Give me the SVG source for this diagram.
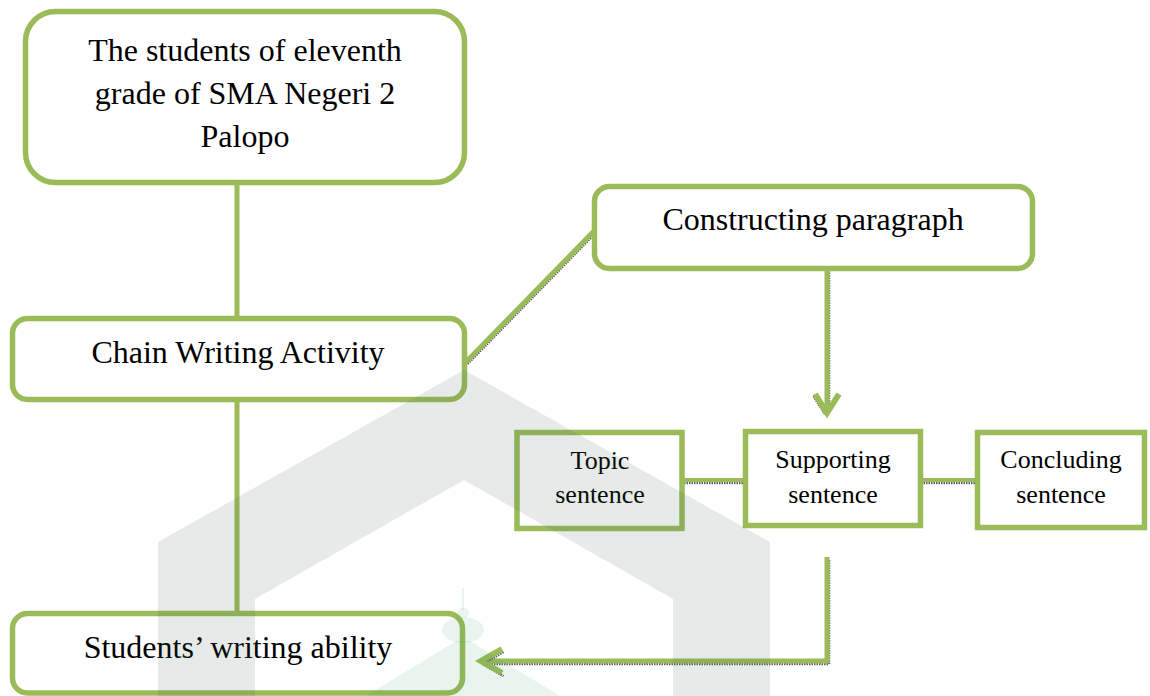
<svg xmlns="http://www.w3.org/2000/svg" xmlns:xlink="http://www.w3.org/1999/xlink" width="1150" height="696" viewBox="0 0 1150 696">
  <style>
    .box { fill: #ffffff; stroke: #9bbb59; stroke-width: 5.5; }
    .lbl { font-family: "Liberation Serif", "Times New Roman", serif; fill: #000000; text-anchor: middle; }
    .big { font-size: 32px; }
    .small { font-size: 26px; }
    .line { fill: none; stroke: #9bbb59; stroke-width: 5; stroke-linecap: butt; stroke-linejoin: miter; }
    .shadow { fill: none; stroke: #5e5e5e; stroke-width: 2.5; stroke-dasharray: 1.5 1; }
    .wm { fill: #3f6556; fill-opacity: 0.13; }
    .wm2 { fill: #2e9b5a; fill-opacity: 0.11; }
  </style>
  <defs>
    <path id="c-diag" d="M466,362 L594,231"/>
    <path id="c-down" d="M827,269 V410"/>
    <path id="c-downhead" d="M815,394 L827,413 L839,394"/>
    <path id="c-ts" d="M684,480 H744"/>
    <path id="c-sc" d="M921,480 H977"/>
    <path id="c-back" d="M827,557 V661 H484"/>
    <path id="c-backhead" d="M502,649 L481,661 L502,673"/>
  </defs>
  <rect width="1150" height="696" fill="#ffffff"/>

  <g id="connectors">
    <path class="line" d="M237,183 V318"/>
    <path class="line" d="M237,400 V613"/>
    <use xlink:href="#c-diag" class="shadow" transform="translate(1.5,2)"/>
    <use xlink:href="#c-diag" class="line"/>
    <use xlink:href="#c-down" class="shadow" transform="translate(2,1)"/>
    <use xlink:href="#c-down" class="line"/>
    <use xlink:href="#c-downhead" class="shadow" transform="translate(-1.5,2)"/>
    <use xlink:href="#c-downhead" class="line" style="stroke-width:6"/>
    <use xlink:href="#c-ts" class="shadow" transform="translate(0,3)"/>
    <use xlink:href="#c-ts" class="line" style="stroke-width:4"/>
    <use xlink:href="#c-sc" class="shadow" transform="translate(0,3)"/>
    <use xlink:href="#c-sc" class="line" style="stroke-width:4"/>
    <use xlink:href="#c-back" class="shadow" transform="translate(2,3)"/>
    <use xlink:href="#c-back" class="line"/>
    <use xlink:href="#c-backhead" class="shadow" transform="translate(1.5,3)"/>
    <use xlink:href="#c-backhead" class="line" style="stroke-width:6"/>
  </g>

  <g id="node-students">
    <rect class="box" x="25.5" y="11.5" width="439" height="171" rx="30"/>
    <text class="lbl big" x="245" y="61">The students of eleventh</text>
    <text class="lbl big" x="245" y="104">grade of SMA Negeri 2</text>
    <text class="lbl big" x="245" y="147">Palopo</text>
  </g>
  <g id="node-chain">
    <rect class="box" x="12.5" y="318.5" width="452" height="81" rx="15"/>
    <text class="lbl big" x="238" y="363">Chain Writing Activity</text>
  </g>
  <g id="node-ability">
    <rect class="box" x="12.5" y="613.5" width="450" height="79.5" rx="15"/>
    <text class="lbl big" x="238" y="658">Students’ writing ability</text>
  </g>
  <g id="node-constructing">
    <rect class="box" x="594.5" y="186.5" width="438" height="82" rx="15"/>
    <text class="lbl big" x="813" y="230">Constructing paragraph</text>
  </g>
  <g id="node-topic">
    <rect class="box" x="517" y="432.5" width="165" height="96"/>
    <text class="lbl small" x="600" y="469">Topic</text>
    <text class="lbl small" x="600" y="503">sentence</text>
  </g>
  <g id="node-supporting">
    <rect class="box" x="745.5" y="431.5" width="175" height="94"/>
    <text class="lbl small" x="833" y="468">Supporting</text>
    <text class="lbl small" x="833" y="503">sentence</text>
  </g>
  <g id="node-concluding">
    <rect class="box" x="977.5" y="432.5" width="167" height="95"/>
    <text class="lbl small" x="1061" y="468">Concluding</text>
    <text class="lbl small" x="1061" y="503">sentence</text>
  </g>

  <g id="watermark">
    <polygon class="wm" points="464,370 770,542 770,696 673,696 673,599 464,480 255,599 255,696 158,696 158,542"/>
    <rect class="wm2" x="462" y="588" width="2" height="22"/>
    <ellipse class="wm2" cx="463" cy="613" rx="6" ry="5"/>
    <ellipse class="wm2" cx="463" cy="630" rx="21" ry="13"/>
    <polygon class="wm2" points="463,641 470,641 560,696 366,696 456,641"/>
  </g>
</svg>
